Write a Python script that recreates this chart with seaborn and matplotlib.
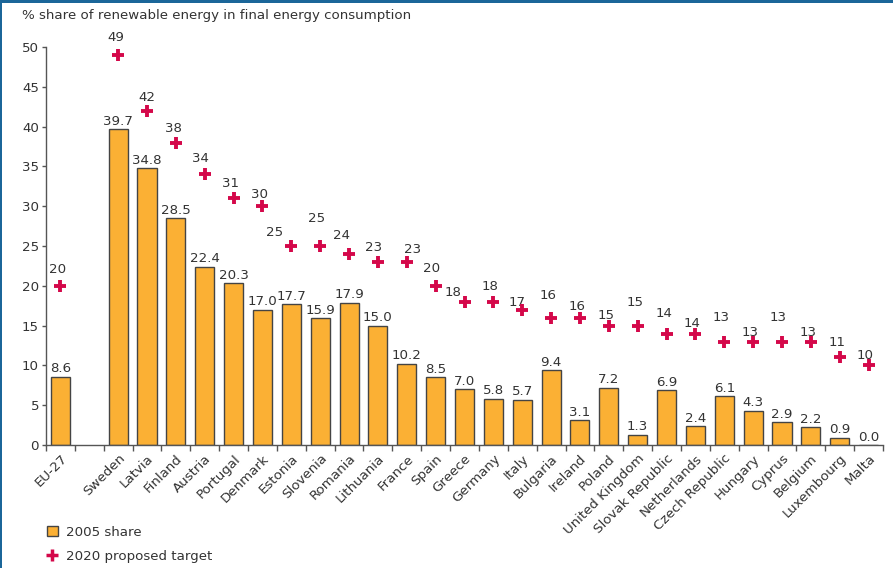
import numpy as np
import pandas as pd
import matplotlib
matplotlib.use("Agg")
import matplotlib.pyplot as plt
from matplotlib.patches import Patch, Rectangle
from matplotlib.lines import Line2D
import seaborn as sns

# ---- data ----
countries = ["EU-27", " ", "Sweden", "Latvia", "Finland", "Austria", "Portugal",
             "Denmark", "Estonia", "Slovenia", "Romania", "Lithuania", "France",
             "Spain", "Greece", "Germany", "Italy", "Bulgaria", "Ireland", "Poland",
             "United Kingdom", "Slovak Republic", "Netherlands", "Czech Republic",
             "Hungary", "Cyprus", "Belgium", "Luxembourg", "Malta"]
share_2005 = [8.6, np.nan, 39.7, 34.8, 28.5, 22.4, 20.3, 17.0, 17.7, 15.9, 17.9,
              15.0, 10.2, 8.5, 7.0, 5.8, 5.7, 9.4, 3.1, 7.2, 1.3, 6.9, 2.4, 6.1,
              4.3, 2.9, 2.2, 0.9, 0.0]
target_2020 = [20, np.nan, 49, 42, 38, 34, 31, 30, 25, 25, 24, 23, 23, 20, 18, 18,
               17, 16, 16, 15, 15, 14, 14, 13, 13, 13, 13, 11, 10]
y_ticks = [0, 5, 10, 15, 20, 25, 30, 35, 40, 45, 50]

# label offsets (pixels, dx, dy) for the target labels, as placed in the source
target_label_offsets = [(-3, 16), (0, 0), (-2, 17), (0, 13), (-2, 14), (-4, 16),
                        (-3, 15), (-3, 12), (-17, 13), (-4, 28), (-8, 18),
                        (-4, 14), (6, 12), (-4, 17), (-11, 9), (-3, 15), (-5, 7),
                        (-3, 22), (-3, 11), (-3, 10), (-3, 23), (-3, 20), (-3, 10),
                        (-3, 24), (-3, 9), (-4, 24), (-3, 9), (-3, 15), (-4, 10)]

BAR = "#FBB034"
EDGE = "#444444"
RED = "#D4084A"
TXT = "#333333"

sns.set_theme(style="white")
plt.rcParams["font.family"] = ["DejaVu Sans"]

df = pd.DataFrame({"country": countries, "share": share_2005, "target": target_2020})

W, H = 893, 568
fig = plt.figure(figsize=(W / 100, H / 100), dpi=100)
ax = fig.add_axes([46 / W, (H - 445) / H, 837 / W, 398 / H])

sns.barplot(data=df, x="country", y="share", order=countries, color=BAR,
            edgecolor=EDGE, linewidth=1.0, width=0.66, saturation=1, ax=ax)

pos = np.arange(len(countries))
ax.plot(pos, df["target"], ls="none", marker="+", ms=9, mew=2.8, color=RED,
        clip_on=False, zorder=5)

fs = 9.6
for i, v in enumerate(share_2005):
    if np.isnan(v):
        continue
    ax.annotate(f"{v:.1f}", (i, v), xytext=(0, 1.0), textcoords="offset points",
                ha="center", va="bottom", fontsize=fs, color=TXT, clip_on=False)
for i, v in enumerate(target_2020):
    if np.isnan(v):
        continue
    dx, dy = target_label_offsets[i]
    ax.annotate(f"{int(v)}", (i, v), xytext=(dx * 0.72, dy * 0.72),
                textcoords="offset points", ha="center", va="center",
                fontsize=fs, color=TXT, annotation_clip=False)

ax.set_xlim(-0.5, len(countries) - 0.5)
ax.set_ylim(0, 50)
ax.set_yticks(y_ticks)
ax.set_xlabel("")
ax.set_ylabel("")
ax.set_xticks(pos)
ax.set_xticklabels(countries, rotation=45, ha="right", rotation_mode="anchor",
                   fontsize=fs, color=TXT)
ax.set_xticks(np.arange(-0.5, len(countries), 1), minor=True)
ax.tick_params(axis="x", which="major", length=0, pad=5)
ax.tick_params(axis="x", which="minor", length=4, width=1, color="#555555",
               direction="out", bottom=True)
ax.tick_params(axis="y", length=3, width=1, color="#555555", direction="out",
               left=True, labelsize=fs, labelcolor=TXT, pad=2)
for s in ["top", "right"]:
    ax.spines[s].set_visible(False)
for s in ["left", "bottom"]:
    ax.spines[s].set_color("#555555")
    ax.spines[s].set_linewidth(1.0)

fig.text(22 / W, 1 - 16 / H, "% share of renewable energy in final energy consumption",
         fontsize=fs, color=TXT, va="center", ha="left")

handles = [Patch(facecolor=BAR, edgecolor=EDGE, linewidth=1.0),
           Line2D([], [], ls="none", marker="+", ms=8, mew=2.5, color=RED)]
fig.legend(handles, ["2005 share", "2020 proposed target"], loc="upper left",
           bbox_to_anchor=(40 / W, 1 - 519 / H), frameon=False, fontsize=fs,
           handlelength=0.85, handleheight=0.85, handletextpad=0.6,
           labelspacing=0.85, labelcolor=TXT, borderpad=0)

# blue frame edges
fig.patches.append(Rectangle((0, 1 - 3 / H), 1, 3 / H, transform=fig.transFigure,
                             facecolor="#1B6699", edgecolor="none", zorder=10))
fig.patches.append(Rectangle((0, 0), 2 / W, 1, transform=fig.transFigure,
                             facecolor="#1B6699", edgecolor="none", zorder=10))

fig.savefig("out.png", dpi=100)
